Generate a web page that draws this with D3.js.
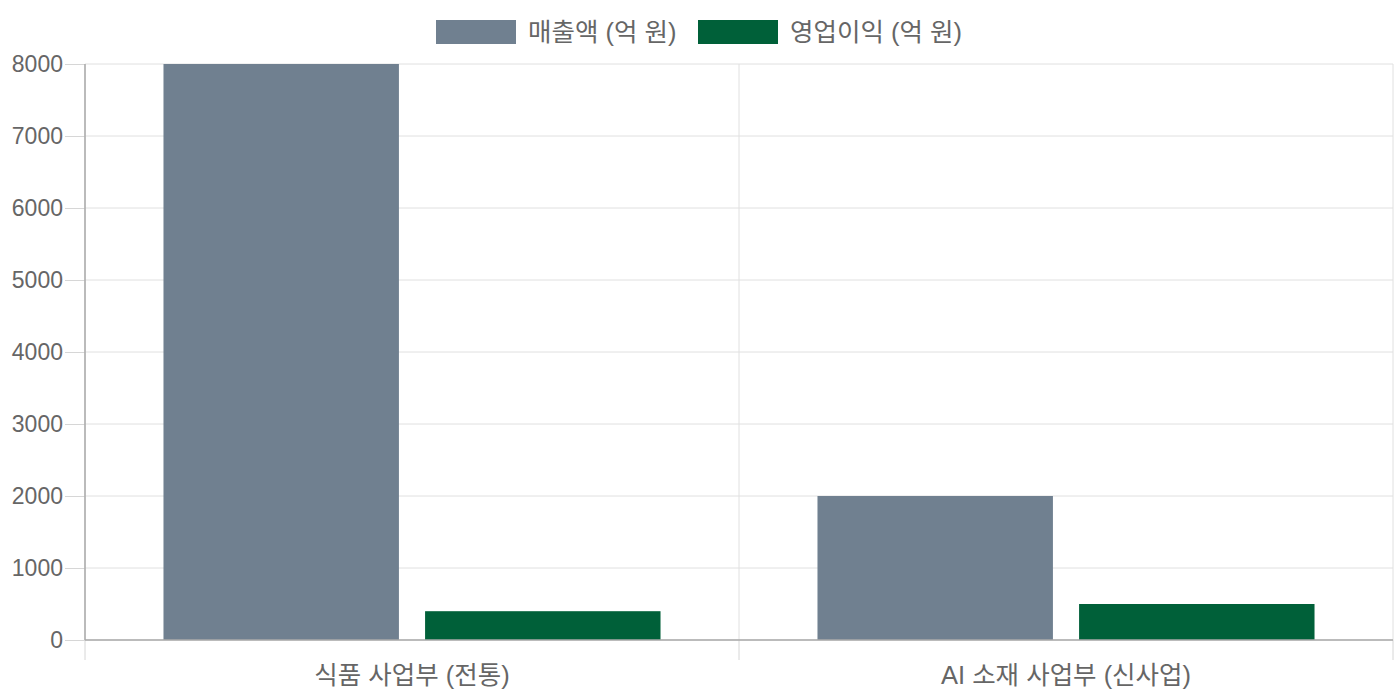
<!DOCTYPE html>
<html>
<head>
<meta charset="utf-8">
<script src="https://cdn.jsdelivr.net/npm/d3@7"></script>
<style>
  body { margin: 0; background: #fff; }
  text { font-family: "Liberation Sans", "Noto Sans CJK KR", sans-serif; fill: #666; }
</style>
</head>
<body>
<div id="chart"></div>
<script>
// 데이터
const categories = ['식품 사업부 (전통)', 'AI 소재 사업부 (신사업)'];
const seriesNames = ['매출액 (억 원)', '영업이익 (억 원)'];
const revenue = [8000, 2000];
const profit = [400, 500];
const yTicks = [0, 1000, 2000, 3000, 4000, 5000, 6000, 7000, 8000];
const colors = ['#708090', '#006039'];

const W = 1400, H = 700;
const margin = { top: 64, right: 7, bottom: 60, left: 85 };
const width = W - margin.left - margin.right;
const height = H - margin.top - margin.bottom;
const tickLen = 20;

const svg = d3.select('#chart').append('svg')
  .attr('width', W).attr('height', H);
const g = svg.append('g')
  .attr('transform', `translate(${margin.left},${margin.top})`);

// 스케일
const x0 = d3.scaleBand().domain(categories).range([0, width]).padding(0);
const x1 = d3.scaleBand().domain(seriesNames).range([0, x0.bandwidth()])
  .paddingInner(0.1).paddingOuter(0.3);
const y = d3.scaleLinear().domain([0, 8000]).range([height, 0]);

// 가로 격자선
g.append('g').selectAll('line').data(yTicks).join('line')
  .attr('x1', 0).attr('x2', width)
  .attr('y1', d => y(d)).attr('y2', d => y(d))
  .attr('stroke', '#e0e0e0').attr('stroke-width', 1);

// 세로 격자선 (카테고리 경계)
const bounds = categories.map(c => x0(c)).concat([width]);
g.append('g').selectAll('line').data(bounds).join('line')
  .attr('x1', d => d).attr('x2', d => d)
  .attr('y1', 0).attr('y2', height)
  .attr('stroke', '#e0e0e0');

// Y 축
const yAxis = g.append('g')
  .call(d3.axisLeft(y).tickValues(yTicks).tickFormat(d3.format('d'))
    .tickSize(tickLen).tickPadding(2));
yAxis.select('.domain').remove();
yAxis.selectAll('line').attr('stroke', '#d6d6d6');
yAxis.selectAll('text').style('font-size', '23px').attr('fill', '#666');

// X 축 눈금
g.append('g').selectAll('line').data(bounds).join('line')
  .attr('x1', d => d).attr('x2', d => d)
  .attr('y1', height).attr('y2', height + tickLen)
  .attr('stroke', '#d6d6d6');

g.append('g').selectAll('text').data(categories).join('text')
  .attr('x', d => x0(d) + x0.bandwidth() / 2)
  .attr('y', height + 44)
  .attr('text-anchor', 'middle')
  .style('font-size', '25.5px')
  .text(d => d);

// 막대
const rows = categories.map((c, i) => ({ cat: c, vals: [revenue[i], profit[i]] }));
g.append('g').selectAll('g').data(rows).join('g')
  .attr('transform', d => `translate(${x0(d.cat)},0)`)
  .selectAll('rect')
  .data(d => d.vals.map((v, j) => ({ name: seriesNames[j], v, color: colors[j] })))
  .join('rect')
  .attr('x', d => x1(d.name))
  .attr('width', x1.bandwidth())
  .attr('y', d => y(d.v))
  .attr('height', d => y(0) - y(d.v))
  .attr('fill', d => d.color);

// 축선
g.append('line').attr('x1', 0).attr('x2', 0).attr('y1', 0).attr('y2', height)
  .attr('stroke', '#aaaaaa').attr('stroke-width', 1.5);
g.append('line').attr('x1', 0).attr('x2', width).attr('y1', height).attr('y2', height)
  .attr('stroke', '#aaaaaa').attr('stroke-width', 1.5);

// 범례
const legend = svg.append('g');
const legendItems = [
  { name: seriesNames[0], color: colors[0], x: 436 },
  { name: seriesNames[1], color: colors[1], x: 698 }
];
const li = legend.selectAll('g').data(legendItems).join('g')
  .attr('transform', d => `translate(${d.x},20)`);
li.append('rect').attr('width', 80).attr('height', 24).attr('fill', d => d.color);
li.append('text').attr('x', 92).attr('y', 21)
  .style('font-size', '25.5px').text(d => d.name);
</script>
</body>
</html>
